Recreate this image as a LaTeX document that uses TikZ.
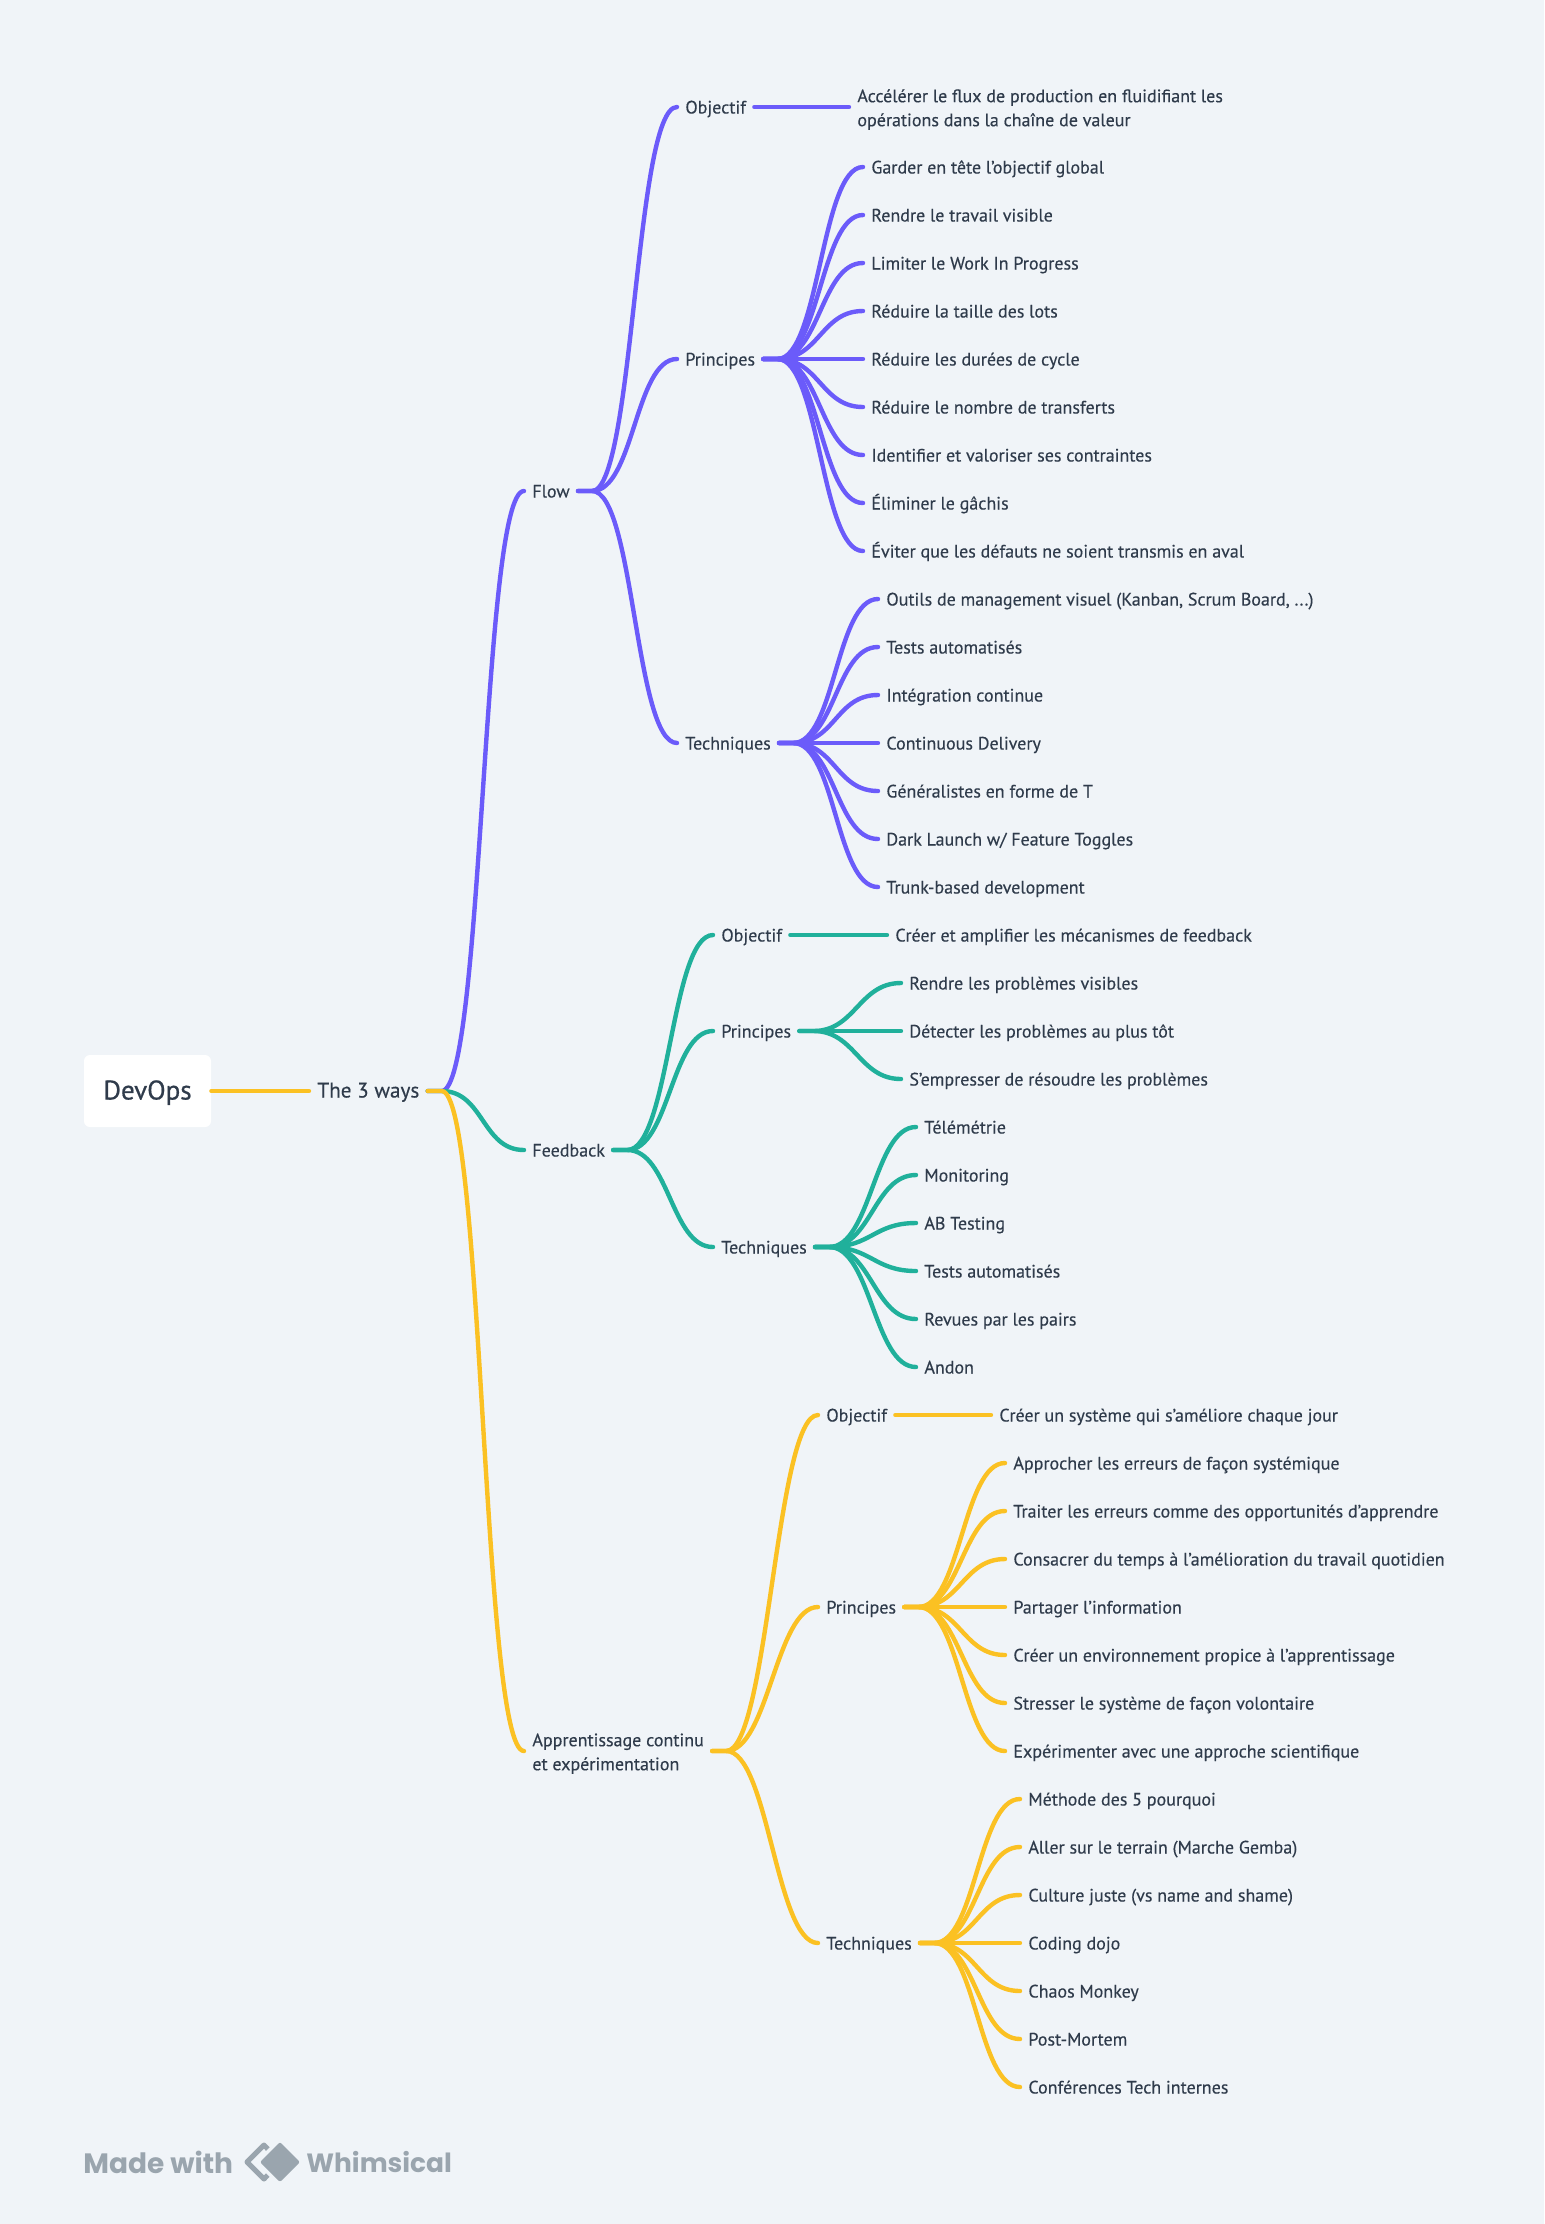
\documentclass[tikz,border=0pt]{standalone}
\usepackage{fontspec}
\setmainfont{PT Sans}
\newfontfamily\logofont{Poppins}
\definecolor{bgc}{HTML}{F0F4F8}
\definecolor{txtc}{HTML}{2F3B4B}
\definecolor{flowc}{HTML}{6B5BFA}
\definecolor{feedc}{HTML}{20B09B}
\definecolor{learnc}{HTML}{FBC123}
\definecolor{logoc}{HTML}{9AA5AE}
\newcommand{\toprule}{\rule{0pt}{9pt}}
\begin{document}
\begin{tikzpicture}[x=0.5pt,y=-0.5pt,text=txtc,font=\fontsize{9}{12}\selectfont\addfontfeature{FakeBold=0.3}]
	\tikzstyle{unit}=[anchor=west,inner xsep=4pt,inner ysep=0pt,text height=9pt,text depth=2.5pt]
	\tikzstyle{para}=[anchor=west,inner xsep=4pt,inner ysep=0pt,align=left]
	\tikzstyle{link}=[line width=2.2pt,line cap=round]
	\tikzstyle{curve}=[out=0,in=180,distance=21pt]

	\path[fill=bgc,use as bounding box] (0,0) rectangle (1544,2224);

	% root
	\node[fill=white,rounded corners=3pt,minimum width=63.5pt,minimum height=36pt,text height=11pt,text depth=2.5pt,font=\fontsize{13.5}{16}\selectfont\addfontfeature{FakeBold=0.7}](devops) at (147.5,1091){DevOps};
	\node[unit,font=\fontsize{10.6}{12}\selectfont\addfontfeature{FakeBold=0.3}](ways) at (309,1091){The 3 ways};

	% first level
	\node[unit](flow) at (524,491){Flow};
	\node[unit](feedback) at (524,1150){Feedback};
	\node[para](learn) at (524,1751){\toprule Apprentissage continu\\et expérimentation};

	\node[unit](flowobj) at (677,107){Objectif};
	\node[unit](flowpri) at (677,359){Principes};
	\node[unit](flowtec) at (677,743){Techniques};
	\node[para](flowgoal) at (849,107){\toprule Accélérer le flux de production en fluidifiant les\\opérations dans la chaîne de valeur};

	\node[unit](feedobj) at (713,935){Objectif};
	\node[unit](feedpri) at (713,1031){Principes};
	\node[unit](feedtec) at (713,1247){Techniques};
	\node[unit](feedgoal) at (887,935){Créer et amplifier les mécanismes de feedback};

	\node[unit](learnobj) at (818,1415){Objectif};
	\node[unit](learnpri) at (818,1607){Principes};
	\node[unit](learntec) at (818,1943){Techniques};
	\node[unit](learngoal) at (991,1415){Créer un système qui s'améliore chaque jour};

	% flow
	\foreach \y/\label [count=\i] in {167/Garder en tête l'objectif global,215/Rendre le travail visible,263/Limiter le Work In Progress,311/Réduire la taille des lots,359/Réduire les durées de cycle,407/Réduire le nombre de transferts,455/Identifier et valoriser ses contraintes,503/Éliminer le gâchis,551/Éviter que les défauts ne soient transmis en aval}{
		\node[unit](flowpri\i) at (863,\y){\label};
		\draw[link,flowc] (flowpri.east) -- ++(14,0) to[curve] (flowpri\i.west);
	}
	\foreach \y/\label [count=\i] in {599/{Outils de management visuel (Kanban, Scrum Board, ...)},647/Tests automatisés,695/Intégration continue,743/Continuous Delivery,791/Généralistes en forme de T,839/{Dark Launch w/ Feature Toggles},887/Trunk-based development}{
		\node[unit](flowtec\i) at (878,\y){\label};
		\draw[link,flowc] (flowtec.east) -- ++(14,0) to[curve] (flowtec\i.west);
	}
	\draw[link,flowc] (flowobj.east) -- (flowgoal.west);
	\foreach \to in {flowobj,flowpri,flowtec}
		\draw[link,flowc] (flow.east) -- ++(14,0) to[curve] (\to.west);
	\draw[link,flowc] (ways.east) -- ++(14,0) to[curve] (flow.west);

	% feedback
	\foreach \y/\label [count=\i] in {983/Rendre les problèmes visibles,1031/Détecter les problèmes au plus tôt,1079/S'empresser de résoudre les problèmes}{
		\node[unit](feedpri\i) at (901,\y){\label};
		\draw[link,feedc] (feedpri.east) -- ++(14,0) to[curve] (feedpri\i.west);
	}
	\foreach \y/\label [count=\i] in {1127/Télémétrie,1175/Monitoring,1223/AB Testing,1271/Tests automatisés,1319/Revues par les pairs,1367/Andon}{
		\node[unit](feedtec\i) at (916,\y){\label};
		\draw[link,feedc] (feedtec.east) -- ++(14,0) to[curve] (feedtec\i.west);
	}
	\draw[link,feedc] (feedobj.east) -- (feedgoal.west);
	\foreach \to in {feedobj,feedpri,feedtec}
		\draw[link,feedc] (feedback.east) -- ++(14,0) to[curve] (\to.west);
	\draw[link,feedc] (ways.east) -- ++(14,0) to[curve] (feedback.west);

	% learning
	\foreach \y/\label [count=\i] in {1463/Approcher les erreurs de façon systémique,1511/Traiter les erreurs comme des opportunités d'apprendre,1559/Consacrer du temps à l'amélioration du travail quotidien,1607/Partager l'information,1655/Créer un environnement propice à l'apprentissage,1703/Stresser le système de façon volontaire,1751/Expérimenter avec une approche scientifique}{
		\node[unit](learnpri\i) at (1005,\y){\label};
		\draw[link,learnc] (learnpri.east) -- ++(14,0) to[curve] (learnpri\i.west);
	}
	\foreach \y/\label [count=\i] in {1799/Méthode des 5 pourquoi,1847/Aller sur le terrain (Marche Gemba),1895/Culture juste (vs name and shame),1943/Coding dojo,1991/Chaos Monkey,2039/Post-Mortem,2087/Conférences Tech internes}{
		\node[unit](learntec\i) at (1020,\y){\label};
		\draw[link,learnc] (learntec.east) -- ++(14,0) to[curve] (learntec\i.west);
	}
	\draw[link,learnc] (learnobj.east) -- (learngoal.west);
	\foreach \to in {learnobj,learnpri,learntec}
		\draw[link,learnc] (learn.east) -- ++(14,0) to[curve] (\to.west);
	\draw[link,learnc] (ways.east) -- ++(14,0) to[curve] (learn.west);
	\draw[link,learnc] (devops.east) -- (ways.west);

	% logo
	\node[anchor=west,inner sep=0pt,text=logoc,font=\fontsize{14}{16}\logofont\bfseries](made) at (83,2162){Made with};
	\node[anchor=west,inner sep=0pt,text=logoc,font=\fontsize{13.2}{16}\logofont\bfseries](whim) at (306,2162){Whimsical};
	\draw[logoc,line width=2.5pt,line join=round] (280,2162)--(264,2145)--(247,2162)--(264,2179)--cycle;
	\fill[bgc] (280,2137)--(305,2162)--(280,2187)--(255,2162)--cycle;
	\fill[logoc,rounded corners=1pt] (280,2142)--(300,2162)--(280,2182)--(260,2162)--cycle;
\end{tikzpicture}
\end{document}
